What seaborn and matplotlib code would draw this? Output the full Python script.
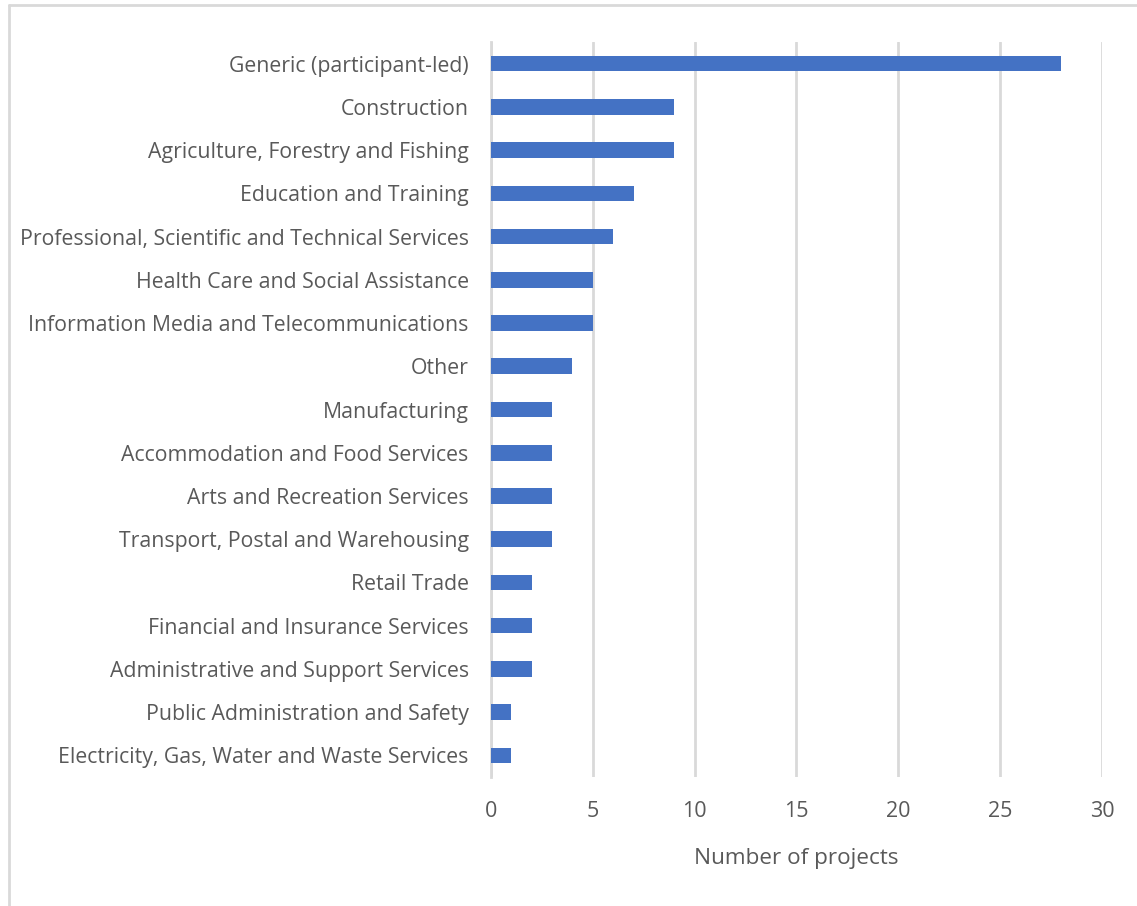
import matplotlib
matplotlib.use("Agg")
import matplotlib.pyplot as plt
from matplotlib.lines import Line2D
import seaborn as sns
import pandas as pd

categories = [
    "Generic (participant-led)",
    "Construction",
    "Agriculture, Forestry and Fishing",
    "Education and Training",
    "Professional, Scientific and Technical Services",
    "Health Care and Social Assistance",
    "Information Media and Telecommunications",
    "Other",
    "Manufacturing",
    "Accommodation and Food Services",
    "Arts and Recreation Services",
    "Transport, Postal and Warehousing",
    "Retail Trade",
    "Financial and Insurance Services",
    "Administrative and Support Services",
    "Public Administration and Safety",
    "Electricity, Gas, Water and Waste Services",
]
projects = [28, 9, 9, 7, 6, 5, 5, 4, 3, 3, 3, 3, 2, 2, 2, 1, 1]
x_ticks = [0, 5, 10, 15, 20, 25, 30]

df = pd.DataFrame({"industry": categories, "projects": projects})

sns.set_theme(style="white")
plt.rcParams["font.family"] = ["Open Sans", "DejaVu Sans"]

text_color = "#595959"
grid_color = "#D9D9D9"
bar_color = "#4472C4"

fig = plt.figure(figsize=(11.37, 9.06), dpi=100)
ax = fig.add_axes([0.4318, 0.1424, 0.9692 - 0.4318, 0.9536 - 0.1424])

sns.barplot(data=df, x="projects", y="industry", order=categories,
            color=bar_color, saturation=1, width=0.36, linewidth=0,
            ax=ax, zorder=3)

ax.set_xlim(0, 30)
ax.set_xticks(x_ticks)
ax.set_xticklabels([str(t) for t in x_ticks])
ax.xaxis.grid(True, color=grid_color, linewidth=2, zorder=0)
ax.yaxis.grid(False)
for side in ["top", "right", "bottom"]:
    ax.spines[side].set_visible(False)
ax.spines["left"].set_color(grid_color)
ax.spines["left"].set_linewidth(2)

ax.tick_params(axis="y", length=0, colors=text_color, labelsize=15.3, pad=16)
ax.tick_params(axis="x", length=0, colors=text_color, labelsize=15.5, pad=17)
ax.set_ylabel("")
ax.set_xlabel("Number of projects", color=text_color, fontsize=16.2, labelpad=19)

# outer frame (top and left edges)
fig.add_artist(Line2D([8.5 / 1137, 1.0], [1 - 4.5 / 906, 1 - 4.5 / 906],
                      color=grid_color, linewidth=2, transform=fig.transFigure))
fig.add_artist(Line2D([8.5 / 1137, 8.5 / 1137], [0.0, 1 - 4.5 / 906],
                      color=grid_color, linewidth=2, transform=fig.transFigure))

fig.savefig("out.png", dpi=100)
